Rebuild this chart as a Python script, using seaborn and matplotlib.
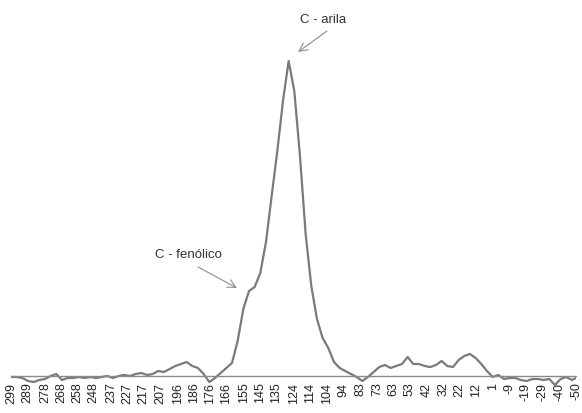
import matplotlib
matplotlib.use("Agg")
import matplotlib.pyplot as plt
import numpy as np
import pandas as pd
import seaborn as sns

# chemical shift (ppm) of each sampled point
shift = [299, 295.5, 292, 288.5, 285, 281.5, 278, 274.5, 271, 267.5, 264, 260.5, 257, 253.5,
         250, 246.5, 243, 239.5, 236, 232.5, 229, 225.5, 222, 218.5, 215, 211.5, 208, 204.5,
         201, 197.5, 194, 190.5, 187, 183.5, 180, 176.5, 173, 169.5, 166, 162.5, 159, 155.5,
         152, 148.5, 145, 141.5, 138, 134.5, 131, 127.5, 124, 120.5, 117, 113.5, 110, 106.5,
         103, 99.5, 96, 92.5, 89, 85.5, 82, 78.5, 75, 71.5, 68, 64.5, 61, 57.5, 54, 50.5,
         47, 43.5, 40, 36.5, 33, 29.5, 26, 22.5, 19, 15.5, 12, 8.5, 5, 1.5, -2, -5.5, -9,
         -12.5, -16, -19.5, -23, -26.5, -30, -33.5, -37, -40.5, -44, -47.5, -50]

# signal intensity (arbitrary units)
intensity = [-1, -1, -2, -5, -6, -4, -3, 0, 2, -4, -2, -2, -1, -2, -1, -2, -1, 0, -2, 0,
             1, 0, 2, 3, 1, 2, 5, 4, 7, 10, 12, 14, 10, 8, 2, -6, -2, 3, 8, 13,
             35, 67, 85, 89, 103, 134, 180, 225, 275, 315, 285, 220, 142, 90, 57, 38, 28, 14, 8, 5,
             2, -1, -5, -1, 4, 9, 11, 8, 10, 12, 19, 12, 12, 10, 9, 11, 15, 10, 9, 16,
             20, 22, 18, 12, 5, -1, 1, -3, -2, -2, -4, -5, -3, -3, -4, -3, -9, -3, -1, -4, -2]

tick_labels = [299, 289, 278, 268, 258, 248, 237, 227, 217, 207, 196, 186, 176, 166, 155,
               145, 135, 124, 114, 104, 94, 83, 73, 63, 53, 42, 32, 22, 12, 1, -9, -19,
               -29, -40, -50]
tick_marks = [258, 155, 53, -50]

annot_text = ["C - arila", "C - fenólico"]

sns.set_theme(style="white")
plt.rcParams["font.family"] = ["Liberation Sans", "DejaVu Sans"]

df = pd.DataFrame({"shift": shift, "intensity": intensity})

fig = plt.figure(figsize=(5.82, 4.14), dpi=100)
ax = fig.add_axes([11 / 582, 22 / 414, 565 / 582, 352 / 414])

sns.lineplot(data=df, x="shift", y="intensity", ax=ax, color="#7a7a7a", linewidth=1.6)

ax.set_xlim(299, -50)
ax.set_ylim(-15, 337)
for s in ["left", "right", "top"]:
    ax.spines[s].set_visible(False)
ax.spines["bottom"].set_position(("data", 0))
ax.spines["bottom"].set_color("#8a8a8a")
ax.spines["bottom"].set_linewidth(1.0)
ax.set_yticks([])
ax.set_xticks(tick_labels)
ax.set_xticklabels([str(t) for t in tick_labels], rotation=90, fontsize=9, color="#222222")
ax.tick_params(axis="x", which="major", length=0, pad=4)
ax.set_xticks(tick_marks, minor=True)
ax.tick_params(axis="x", which="minor", length=4, color="#8a8a8a", width=1, direction="out")
ax.set_xlabel("")
ax.set_ylabel("")

arrow_kw = dict(arrowstyle="->,head_length=0.5,head_width=0.25", color="#8c8c8c", lw=0.8,
                shrinkA=0, shrinkB=0)
# C - arila
ax.text(106.3, 357, annot_text[0], ha="center", va="center", fontsize=9.5, color="#333333",
        clip_on=False)
ax.annotate("", xy=(121.7, 324), xytext=(103.8, 345), arrowprops=arrow_kw, annotation_clip=False)
# C - fenólico
ax.text(189.7, 122, annot_text[1], ha="center", va="center", fontsize=9.5, color="#333333")
ax.annotate("", xy=(159.4, 88), xytext=(183.5, 109), arrowprops=arrow_kw)

fig.savefig("out.png", dpi=100)
